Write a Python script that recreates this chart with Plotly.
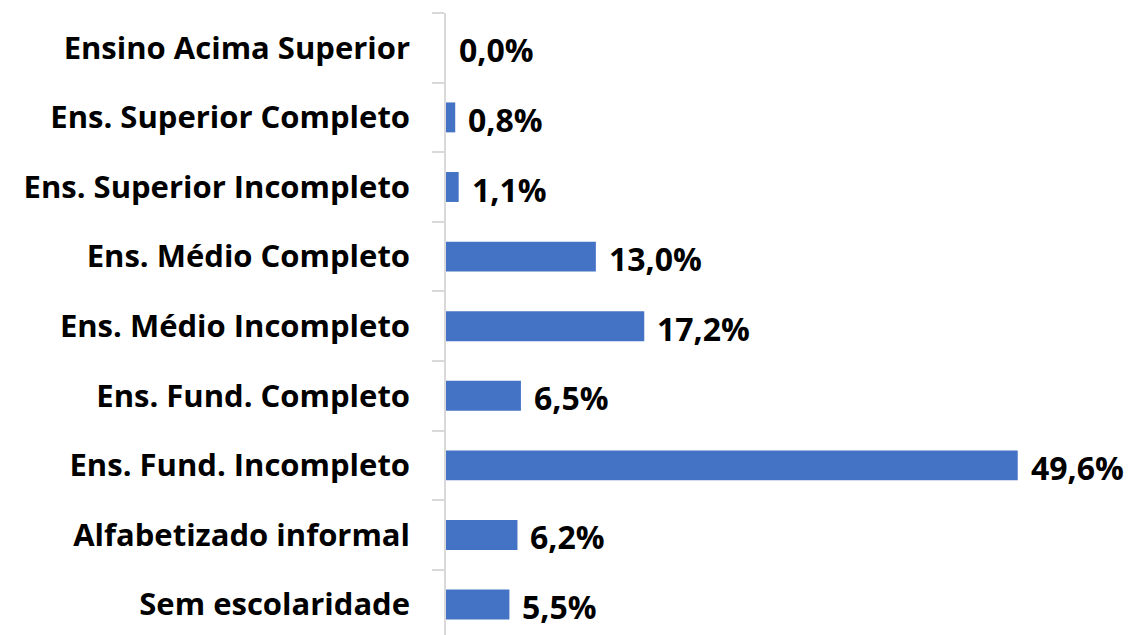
import plotly.graph_objects as go

categories = ["Sem escolaridade", "Alfabetizado informal", "Ens. Fund. Incompleto",
              "Ens. Fund. Completo", "Ens. Médio Incompleto", "Ens. Médio Completo",
              "Ens. Superior Incompleto", "Ens. Superior Completo", "Ensino Acima Superior"]
values = [5.5, 6.2, 49.6, 6.5, 17.2, 13.0, 1.1, 0.8, 0.0]
labels = [f"{v:.1f}%".replace(".", ",") for v in values]

FONT = "Open Sans"
fig = go.Figure(go.Bar(
    x=values, y=categories, orientation="h",
    marker=dict(color="#4472C4", line=dict(width=0)),
    width=0.43,
))

for c, v, t in zip(categories, values, labels):
    fig.add_annotation(x=v, y=c, text=t, showarrow=False, xanchor="left",
                       xshift=11, yshift=-2,
                       font=dict(family=FONT, size=32, color="black", weight="bold"))

fig.update_layout(
    width=1133, height=635,
    margin=dict(l=446, r=0, t=13, b=0, autoexpand=False),
    plot_bgcolor="white", paper_bgcolor="white",
    showlegend=False,
    xaxis=dict(range=[0, 59.6], visible=False, automargin=False),
    yaxis=dict(type="category", categoryorder="array", categoryarray=categories,
               range=[-0.437, 8.5], automargin=False,
               showline=True, linecolor="#d9d9d9", linewidth=1.5,
               ticks="outside", tickson="boundaries", ticklen=12, tickcolor="#d9d9d9",
               tickwidth=1.5, showgrid=False, ticklabelstandoff=28,
               tickfont=dict(family=FONT, size=31, color="black", weight="bold")),
)

fig.write_html("out.html", config={"displayModeBar": False},
               post_script="document.body.style.margin='0';")
